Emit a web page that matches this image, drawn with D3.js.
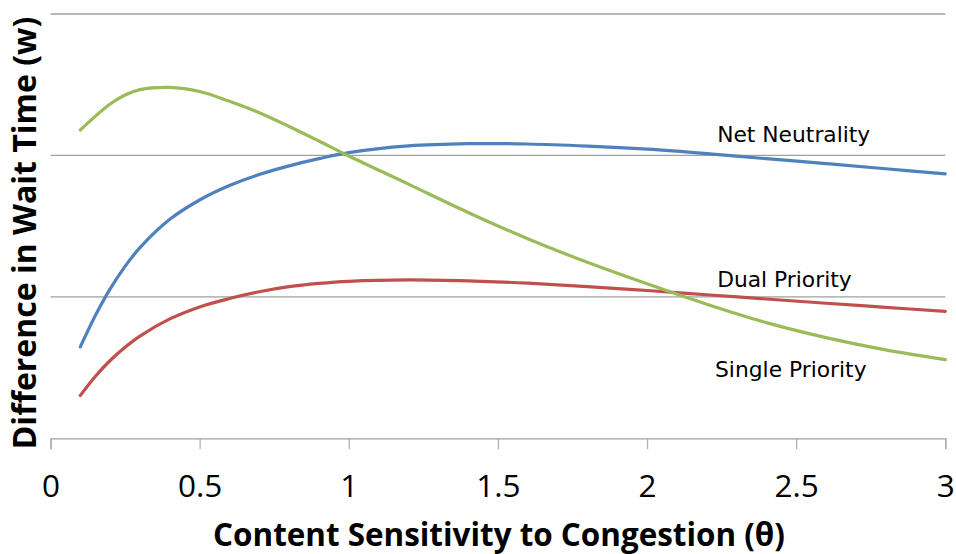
<!DOCTYPE html>
<html>
<head>
<meta charset="utf-8">
<script src="https://cdn.jsdelivr.net/npm/d3@7"></script>
<style>
  html, body { margin: 0; padding: 0; background: #ffffff; }
  svg { display: block; }
</style>
</head>
<body>
<svg id="chart" width="956" height="554"></svg>
<script>
// ---- data ----
const thetas = [0.1, 0.15, 0.2, 0.25, 0.3, 0.4, 0.5, 0.6, 0.7, 0.8, 0.9, 1.0, 1.2, 1.4, 1.6, 1.8, 2.0, 2.2, 2.4, 2.6, 2.8, 3.0];
const netNeutrality = [0.646, 0.866, 1.056, 1.216, 1.348, 1.548, 1.685, 1.787, 1.865, 1.926, 1.977, 2.020, 2.067, 2.083, 2.081, 2.066, 2.044, 2.013, 1.977, 1.942, 1.906, 1.869];
const dualPriority = [0.303, 0.437, 0.550, 0.644, 0.723, 0.844, 0.929, 0.988, 1.036, 1.072, 1.095, 1.110, 1.120, 1.113, 1.097, 1.073, 1.045, 1.015, 0.985, 0.955, 0.926, 0.897];
const singlePriority = [2.180, 2.276, 2.364, 2.427, 2.465, 2.481, 2.452, 2.383, 2.302, 2.205, 2.102, 1.996, 1.797, 1.597, 1.411, 1.244, 1.092, 0.948, 0.818, 0.712, 0.625, 0.556];
const seriesNames = ["Net Neutrality", "Dual Priority", "Single Priority"];
const seriesColors = ["#4F81BD", "#C0504D", "#9BBB59"];
const xTicks = [0, 0.5, 1, 1.5, 2, 2.5, 3];
const yGrid = [1, 2, 3];
const xTitle = "Content Sensitivity to Congestion (\u03B8)";
const yTitle = "Difference in Wait Time (w)";
// label anchor points (data coords) for series labels
const labelPos = [[2.235, 2.093], [2.235, 1.073], [2.228, 0.435]];

const svg = d3.select("#chart");
const x = d3.scaleLinear().domain([0, 3]).range([50.5, 945.3]);
const y = d3.scaleLinear().domain([0, 3]).range([438.3, 14]);

// gridlines
svg.append("g").selectAll("line").data(yGrid).join("line")
  .attr("x1", x(0)).attr("x2", x(3))
  .attr("y1", d => y(d)).attr("y2", d => y(d))
  .attr("stroke", "#a0a0a0").attr("stroke-width", 1.3);

// x axis
const xAxis = d3.axisBottom(x).tickValues(xTicks).tickSize(11).tickPadding(25)
  .tickFormat(d3.format("~g"));
const gx = svg.append("g").attr("transform", `translate(0,${y(0)})`).call(xAxis);
gx.select(".domain").attr("stroke", "#a0a0a0").attr("stroke-width", 1.3);
gx.selectAll(".tick line").attr("stroke", "#b0b0b0").attr("stroke-width", 1.3);
gx.selectAll(".tick text")
  .attr("font-family", "'Open Sans', sans-serif")
  .attr("font-size", 31.5)
  .attr("fill", "#000");

// lines
const allSeries = [netNeutrality, dualPriority, singlePriority];
const line = d3.line()
  .x((d, i) => x(thetas[i]))
  .y(d => y(d))
  .curve(d3.curveCatmullRom.alpha(0.5));
svg.append("g").selectAll("path").data(allSeries).join("path")
  .attr("d", d => line(d))
  .attr("fill", "none")
  .attr("stroke", (d, i) => seriesColors[i])
  .attr("stroke-width", 3.2)
  .attr("stroke-linecap", "round");

// series labels
svg.append("g").selectAll("text").data(seriesNames).join("text")
  .attr("x", (d, i) => x(labelPos[i][0]))
  .attr("y", (d, i) => y(labelPos[i][1]))
  .attr("font-family", "'DejaVu Sans', Verdana, sans-serif")
  .attr("font-size", 21.8)
  .attr("fill", "#000")
  .text(d => d);

// axis titles
svg.append("text")
  .attr("x", 499).attr("y", 546)
  .attr("text-anchor", "middle")
  .attr("font-family", "'Open Sans', sans-serif")
  .attr("font-weight", "bold")
  .attr("font-size", 31.4)
  .attr("fill", "#000")
  .text(xTitle);

svg.append("text")
  .attr("transform", "translate(36,233) rotate(-90)")
  .attr("text-anchor", "middle")
  .attr("font-family", "'Open Sans', sans-serif")
  .attr("font-weight", "bold")
  .attr("font-size", 32)
  .attr("fill", "#000")
  .text(yTitle);
</script>
</body>
</html>
